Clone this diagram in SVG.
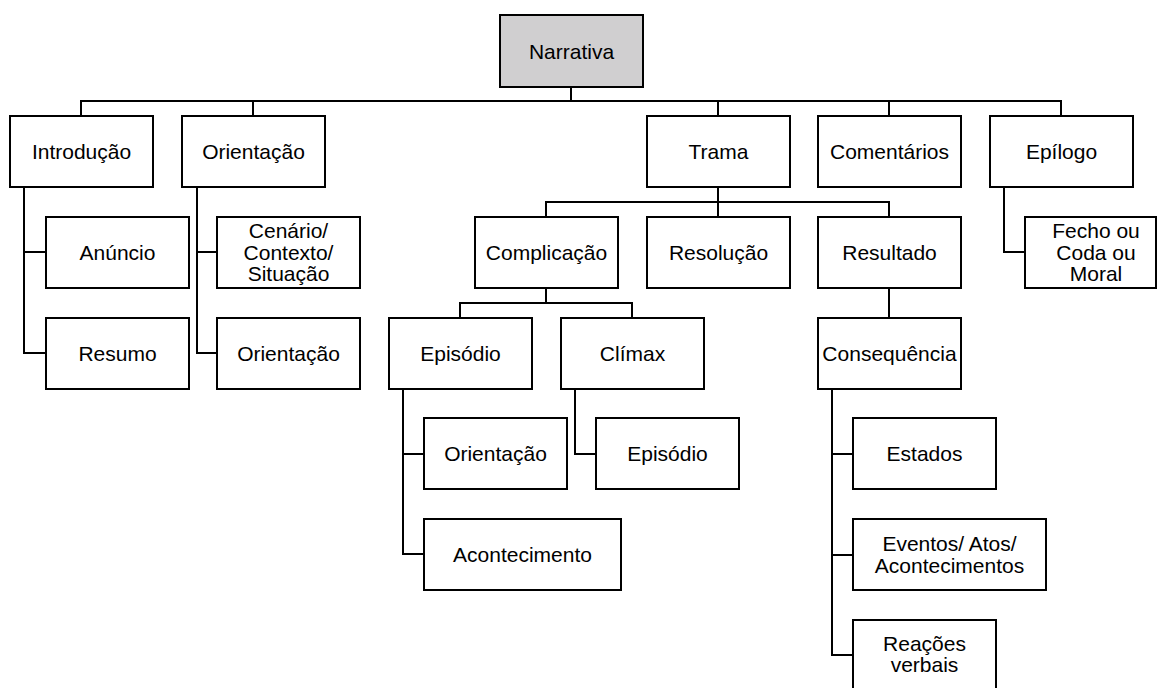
<svg xmlns="http://www.w3.org/2000/svg" width="1157" height="688" viewBox="0 0 1157 688">
<style>
.b{fill:#fff;stroke:#000;stroke-width:2}
.r{fill:#d0cfd0;stroke:#000;stroke-width:2}
.t{font-family:"Liberation Sans",Arial,sans-serif;font-size:21px;fill:#000;text-anchor:middle}
.c{fill:none;stroke:#000;stroke-width:2}
</style>
<rect width="1157" height="688" fill="#fff"/>
<g id="connectors">
<path class="c" d="M571 87V101M81 116V101H1061V116M253 101V116M718 101V116M889 101V116"/>
<path class="c" d="M24 187V353H46M24 252H46"/>
<path class="c" d="M197 187V353H217M197 252H217"/>
<path class="c" d="M718 187V202M546 217V202H889V217M718 202V217"/>
<path class="c" d="M546 288V303M460 318V303H632V318"/>
<path class="c" d="M403 389V554H424M403 454H424"/>
<path class="c" d="M575 389V454H596"/>
<path class="c" d="M889 288V318"/>
<path class="c" d="M832 389V655H853M832 454H853M832 555H853"/>
<path class="c" d="M1004 187V252H1025"/>
</g>
<g id="narrativa"><rect class="r" x="500" y="15" width="143" height="72"/><text class="t" x="571.5" y="58.5">Narrativa</text></g>
<g id="introducao"><rect class="b" x="10" y="116" width="143" height="71"/><text class="t" x="81.5" y="159">Introdução</text></g>
<g id="orientacao"><rect class="b" x="182" y="116" width="143" height="71"/><text class="t" x="253.5" y="159">Orientação</text></g>
<g id="trama"><rect class="b" x="647" y="116" width="143" height="71"/><text class="t" x="718.5" y="159">Trama</text></g>
<g id="comentarios"><rect class="b" x="818" y="116" width="143" height="71"/><text class="t" x="889.5" y="159">Comentários</text></g>
<g id="epilogo"><rect class="b" x="990" y="116" width="143" height="71"/><text class="t" x="1061.5" y="159">Epílogo</text></g>
<g id="anuncio"><rect class="b" x="46" y="217" width="143" height="71"/><text class="t" x="117.5" y="260">Anúncio</text></g>
<g id="cenario"><rect class="b" x="217" y="217" width="143" height="71"/><text class="t" x="288.5"><tspan x="288.5" y="238">Cenário/</tspan><tspan x="288.5" y="260">Contexto/</tspan><tspan x="288.5" y="281">Situação</tspan></text></g>
<g id="resumo"><rect class="b" x="46" y="318" width="143" height="71"/><text class="t" x="117.5" y="361">Resumo</text></g>
<g id="orientacao2"><rect class="b" x="217" y="318" width="143" height="71"/><text class="t" x="288.5" y="361">Orientação</text></g>
<g id="complicacao"><rect class="b" x="475" y="217" width="143" height="71"/><text class="t" x="546.5" y="260">Complicação</text></g>
<g id="resolucao"><rect class="b" x="647" y="217" width="143" height="71"/><text class="t" x="718.5" y="260">Resolução</text></g>
<g id="resultado"><rect class="b" x="818" y="217" width="143" height="71"/><text class="t" x="889.5" y="260">Resultado</text></g>
<g id="fecho"><rect class="b" x="1025" y="217" width="131" height="71"/><text class="t"><tspan x="1096" y="238">Fecho ou</tspan><tspan x="1096" y="260">Coda ou</tspan><tspan x="1096" y="281">Moral</tspan></text></g>
<g id="episodio"><rect class="b" x="389" y="318" width="143" height="71"/><text class="t" x="460.5" y="361">Episódio</text></g>
<g id="climax"><rect class="b" x="561" y="318" width="143" height="71"/><text class="t" x="632.5" y="361">Clímax</text></g>
<g id="consequencia"><rect class="b" x="818" y="318" width="143" height="71"/><text class="t" x="889.5" y="361">Consequência</text></g>
<g id="orientacao3"><rect class="b" x="424" y="418" width="143" height="71"/><text class="t" x="495.5" y="461">Orientação</text></g>
<g id="episodio2"><rect class="b" x="596" y="418" width="143" height="71"/><text class="t" x="667.5" y="461">Episódio</text></g>
<g id="acontecimento"><rect class="b" x="424" y="519" width="197" height="71"/><text class="t" x="522.5" y="562">Acontecimento</text></g>
<g id="estados"><rect class="b" x="853" y="418" width="143" height="71"/><text class="t" x="924.5" y="461">Estados</text></g>
<g id="eventos"><rect class="b" x="853" y="519" width="193" height="71"/><text class="t"><tspan x="949.5" y="551">Eventos/ Atos/</tspan><tspan x="949.5" y="573">Acontecimentos</tspan></text></g>
<g id="reacoes"><rect class="b" x="853" y="620" width="143" height="71"/><text class="t"><tspan x="924.5" y="651">Reações</tspan><tspan x="924.5" y="672">verbais</tspan></text></g>
</svg>
